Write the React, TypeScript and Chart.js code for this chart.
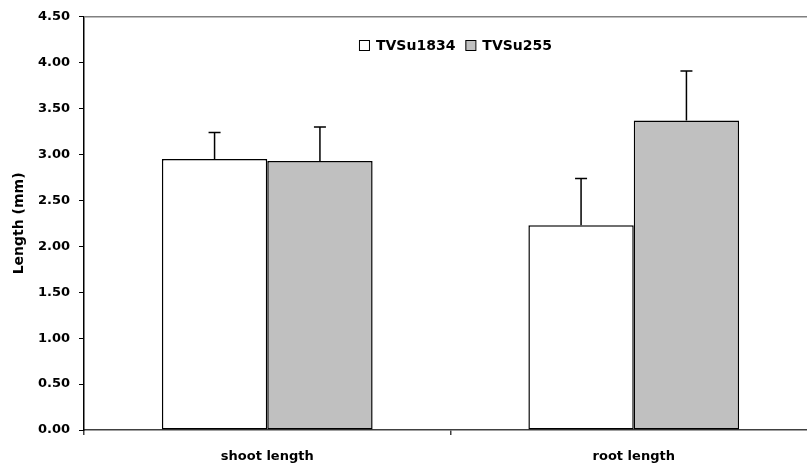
import React, { useEffect, useRef } from "react";
import { Chart, registerables } from "chart.js";

Chart.register(...registerables);

const categories = ["shoot length", "root length"];
const seriesNames = ["TVSu1834", "TVSu255"];
const tvsu1834Values = [2.95, 2.23];
const tvsu255Values = [2.93, 3.37];
const tvsu1834Errors = [0.29, 0.51];
const tvsu255Errors = [0.37, 0.54];
const yTickMin = 0;
const yTickMax = 4.5;
const yTickStep = 0.5;

const FONT = "'DejaVu Sans', sans-serif";

const errorBarPlugin = {
  id: "errorBars",
  afterDatasetsDraw(chart: any) {
    const ctx = chart.ctx;
    const yScale = chart.scales.y;
    chart.data.datasets.forEach((ds: any, i: number) => {
      const meta = chart.getDatasetMeta(i);
      const errs: number[] = ds.errors || [];
      meta.data.forEach((bar: any, j: number) => {
        const v = ds.data[j];
        const top = yScale.getPixelForValue(v + errs[j]);
        const base = yScale.getPixelForValue(v);
        ctx.save();
        ctx.strokeStyle = "#000";
        ctx.lineWidth = 1.5;
        ctx.beginPath();
        ctx.moveTo(bar.x, base);
        ctx.lineTo(bar.x, top);
        ctx.moveTo(bar.x - 6, top);
        ctx.lineTo(bar.x + 6, top);
        ctx.stroke();
        ctx.restore();
      });
    });
  },
};

const framePlugin = {
  id: "frameAndLegend",
  afterDraw(chart: any) {
    const ctx = chart.ctx;
    const a = chart.chartArea;
    ctx.save();
    // top border
    ctx.strokeStyle = "#808080";
    ctx.lineWidth = 1.5;
    ctx.beginPath();
    ctx.moveTo(a.left, a.top);
    ctx.lineTo(a.right, a.top);
    ctx.stroke();
    // legend
    ctx.font = `bold 14px ${FONT}`;
    ctx.textBaseline = "middle";
    ctx.textAlign = "left";
    const box = 10;
    const gapBoxText = 7;
    const gapItems = 10;
    const widths = seriesNames.map((n) => ctx.measureText(n).width);
    const total = widths.reduce((s, w) => s + box + gapBoxText + w, 0) + gapItems;
    const cx = (a.left + a.right) / 2 + 5;
    let x = cx - total / 2;
    const cy = 45;
    chart.data.datasets.forEach((ds: any, i: number) => {
      ctx.fillStyle = ds.backgroundColor;
      ctx.fillRect(x, cy - box / 2, box, box);
      ctx.strokeStyle = "#000";
      ctx.lineWidth = 1;
      ctx.strokeRect(x + 0.5, cy - box / 2 + 0.5, box, box);
      ctx.fillStyle = "#000";
      ctx.fillText(seriesNames[i], x + box + gapBoxText, cy + 1);
      x += box + gapBoxText + widths[i] + gapItems;
    });
    ctx.restore();
  },
};

export default function App() {
  const ref = useRef<HTMLCanvasElement>(null);
  useEffect(() => {
    if (!ref.current) return;
    const chart = new Chart(ref.current, {
      type: "bar",
      data: {
        labels: categories,
        datasets: [
          {
            label: seriesNames[0],
            data: tvsu1834Values,
            errors: tvsu1834Errors,
            backgroundColor: "#ffffff",
            borderColor: "#000000",
            borderWidth: 1.5,
            borderSkipped: false,
            categoryPercentage: 0.575,
            barPercentage: 1,
          } as any,
          {
            label: seriesNames[1],
            data: tvsu255Values,
            errors: tvsu255Errors,
            backgroundColor: "#c0c0c0",
            borderColor: "#000000",
            borderWidth: 1.5,
            borderSkipped: false,
            categoryPercentage: 0.575,
            barPercentage: 1,
          } as any,
        ],
      },
      options: {
        responsive: false,
        animation: false,
        layout: { padding: { left: 0, right: 13, top: 15, bottom: 0 } },
        plugins: {
          legend: { display: false },
          tooltip: { enabled: false },
        },
        scales: {
          x: {
            grid: {
              display: true,
              drawOnChartArea: false,
              drawTicks: true,
              tickLength: 5,
              color: "#404040",
              lineWidth: 1.5,
            },
            border: { display: true, color: "#404040", width: 1.5 },
            ticks: {
              color: "#000",
              font: { family: FONT, size: 13, weight: "bold" },
              padding: 14,
            },
            afterFit(scale: any) {
              scale.height = 38;
            },
          },
          y: {
            min: yTickMin,
            max: yTickMax,
            grid: {
              display: true,
              drawOnChartArea: false,
              drawTicks: true,
              tickLength: 5,
              color: "#000",
              lineWidth: 1,
            },
            border: { display: true, color: "#000", width: 1.5 },
            ticks: {
              stepSize: yTickStep,
              color: "#000",
              font: { family: FONT, size: 13, weight: "bold" },
              padding: 9,
              callback: (v: any) => Number(v).toFixed(2),
            },
            title: {
              display: true,
              text: "Length (mm)",
              color: "#000",
              font: { family: FONT, size: 14, weight: "bold" },
              padding: { top: 11, bottom: 0 },
            },
            afterFit(scale: any) {
              scale.width = 84;
            },
          },
        },
      },
      plugins: [errorBarPlugin, framePlugin],
    });
    return () => chart.destroy();
  }, []);
  return (
    <div
      style={{
        position: "fixed",
        left: 0,
        top: 0,
        width: 807,
        height: 468,
        overflow: "hidden",
        background: "#fff",
      }}
    >
      <canvas ref={ref} width={830} height={468} style={{ display: "block" }} />
    </div>
  );
}
